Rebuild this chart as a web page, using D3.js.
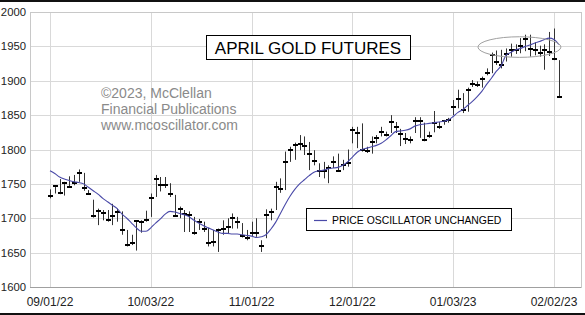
<!DOCTYPE html>
<html>
<head>
<meta charset="utf-8">
<script src="https://cdn.jsdelivr.net/npm/d3@7"></script>
<style>
  body { margin: 0; background: #fff; }
  svg { display: block; font-family: "Liberation Sans", Arial, sans-serif; }
</style>
</head>
<body>
<script>
// daily bars, trading day index 0 = 09/01/22
var highs = [1742,1748,1757,1753,1761,1763,1771,1766,1741,1727,
  1714,1712,1712,1721,1714,1710,1683,1676,1697,1697,
  1711,1736,1763,1760,1760,1751,1734,1717,1712,1710,
  1702,1699,1695,1686,1683,1685,1697,1700,1707,1702,
  1693,1683,1695,1700,1668,1713,1714,1753,1758,1797,
  1804,1810,1821,1819,1811,1799,1780,1782,1777,1790,
  1794,1785,1800,1833,1833,1838,1804,1819,1821,1833,
  1826,1850,1840,1830,1824,1819,1847,1847,1839,1826,
  1856,1840,1843,1846,1872,1887,1882,1890,1901,1899,
  1906,1918,1941,1944,1945,1947,1954,1953,1962,1967,
  1967,1956,1951,1953,1971,1976,1930];
var lows = [1729,1736,1735,1733,1744,1748,1753,1740,1734,1701,
  1690,1697,1695,1690,1695,1676,1659,1661,1653,1679,
  1695,1702,1731,1739,1744,1731,1702,1700,1680,1680,
  1676,1683,1680,1659,1659,1651,1676,1678,1685,1685,
  1672,1668,1673,1673,1651,1671,1697,1712,1737,1741,
  1782,1785,1799,1792,1770,1777,1760,1758,1751,1773,
  1768,1770,1775,1809,1802,1797,1795,1794,1809,1819,
  1819,1824,1824,1805,1808,1809,1824,1817,1812,1817,
  1825,1830,1836,1839,1850,1860,1853,1855,1891,1891,
  1890,1908,1911,1923,1918,1928,1935,1939,1940,1943,
  1935,1937,1935,1916,1936,1930,1876];
var closes = [1733,1747,1737,1752,1745,1752,1766,1744,1736,1703,
  1711,1707,1698,1703,1709,1683,1661,1664,1696,1695,
  1698,1729,1757,1748,1748,1736,1703,1713,1706,1705,
  1678,1694,1684,1664,1666,1683,1684,1687,1700,1695,
  1674,1671,1679,1679,1659,1705,1709,1745,1742,1782,
  1799,1806,1808,1805,1793,1783,1769,1769,1773,1782,
  1769,1778,1780,1829,1824,1799,1798,1811,1816,1826,
  1821,1840,1833,1822,1815,1814,1841,1841,1814,1819,
  1839,1833,1841,1843,1862,1874,1857,1887,1895,1894,
  1902,1912,1938,1927,1923,1939,1945,1945,1951,1960,
  1946,1945,1940,1945,1942,1931,1876];
// blue price oscillator line
var osc = [1769,1765,1760,1757,1755,1753,1752,1750,1745,1740,
  1735,1729,1724,1719,1714,1706,1700,1693,1686,1681,
  1681,1686,1693,1699,1706,1710,1709,1707,1705,1702,
  1697,1693,1689,1686,1683,1680,1678,1678,1677,1677,
  1676,1675,1674,1672,1673,1676,1684,1694,1707,1720,
  1732,1742,1750,1756,1762,1767,1769,1770,1772,1773,
  1774,1777,1782,1789,1796,1800,1802,1804,1806,1809,
  1814,1820,1826,1827,1828,1830,1834,1836,1837,1838,
  1839,1840,1841,1843,1848,1854,1858,1864,1870,1877,
  1885,1895,1904,1914,1922,1937,1941,1945,1947,1950,
  1952,1955,1957,1960,1962,1960,1953];

var xTickIdx = [0, 21, 42, 63, 84, 105];
var xTickLabels = ["09/01/22", "10/03/22", "11/01/22", "12/01/22", "01/03/23", "02/02/23"];
var yTicks = [1600, 1650, 1700, 1750, 1800, 1850, 1900, 1950, 2000];

var width = 585, height = 315;
var plot = {left: 30, right: 581, top: 12, bottom: 287};

var svg = d3.select("body").append("svg")
  .attr("width", width)
  .attr("height", height);

var x = d3.scaleLinear().domain([0, 105]).range([50, 554]);
var y = d3.scaleLinear().domain([1600, 2000]).range([plot.bottom, plot.top]);

// frame bands top / bottom
svg.append("rect").attr("x", 0).attr("y", 0).attr("width", width).attr("height", 2).attr("fill", "#111");
svg.append("rect").attr("x", 0).attr("y", 313).attr("width", width).attr("height", 2).attr("fill", "#111");

// grid
svg.append("g").selectAll("line")
  .data(yTicks)
  .enter().append("line")
  .attr("x1", plot.left).attr("x2", plot.right)
  .attr("y1", function(d) { return Math.round(y(d)) + 0.5; })
  .attr("y2", function(d) { return Math.round(y(d)) + 0.5; })
  .attr("stroke", "#d9d9d9");

svg.append("g").selectAll("line")
  .data(xTickIdx)
  .enter().append("line")
  .attr("x1", function(d) { return Math.round(x(d)) + 0.5; })
  .attr("x2", function(d) { return Math.round(x(d)) + 0.5; })
  .attr("y1", plot.top).attr("y2", plot.bottom)
  .attr("stroke", "#d9d9d9");

// plot border
svg.append("rect")
  .attr("x", plot.left + 0.5).attr("y", plot.top + 0.5)
  .attr("width", plot.right - plot.left).attr("height", plot.bottom - plot.top)
  .attr("fill", "none").attr("stroke", "#c8c8c8");
svg.append("line")
  .attr("x1", plot.left).attr("x2", plot.right)
  .attr("y1", plot.bottom + 0.5).attr("y2", plot.bottom + 0.5)
  .attr("stroke", "#a0a0a0");

// axis labels
svg.append("g").selectAll("text")
  .data(yTicks)
  .enter().append("text")
  .attr("x", 26)
  .attr("y", function(d) { return y(d) + 4; })
  .attr("text-anchor", "end")
  .attr("font-size", 11.3)
  .attr("fill", "#222")
  .text(function(d) { return d; });

svg.append("g").selectAll("text")
  .data(xTickIdx)
  .enter().append("text")
  .attr("x", function(d) { return x(d); })
  .attr("y", 306)
  .attr("text-anchor", "middle")
  .attr("font-size", 12)
  .attr("fill", "#222")
  .text(function(d, i) { return xTickLabels[i]; });

// watermark
var wm = ["\u00a92023, McClellan", "Financial Publications", "www.mcoscillator.com"];
svg.append("g").selectAll("text")
  .data(wm)
  .enter().append("text")
  .attr("x", 101)
  .attr("y", function(d, i) { return 97.5 + i * 16; })
  .attr("font-size", 14)
  .attr("fill", "#8a8a8a")
  .text(function(d) { return d; });

// title box
svg.append("rect")
  .attr("x", 206.5).attr("y", 35.5).attr("width", 204).attr("height", 24)
  .attr("fill", "#fff").attr("stroke", "#000");
svg.append("text")
  .attr("x", 308).attr("y", 54)
  .attr("text-anchor", "middle")
  .attr("font-size", 17)
  .attr("fill", "#000")
  .text("APRIL GOLD FUTURES");

// legend
svg.append("rect")
  .attr("x", 306.5).attr("y", 208.5).attr("width", 205).attr("height", 22)
  .attr("fill", "#fff").attr("stroke", "#000");
svg.append("line")
  .attr("x1", 314).attr("x2", 327).attr("y1", 220.5).attr("y2", 220.5)
  .attr("stroke", "#4a4aa8").attr("stroke-width", 1.2);
svg.append("text")
  .attr("x", 332).attr("y", 223.5)
  .attr("font-size", 10.4)
  .attr("fill", "#000")
  .text("PRICE OSCILLATOR UNCHANGED");

// bars
var idx = d3.range(highs.length);
var bars = svg.append("g");
bars.selectAll("line.hl")
  .data(idx)
  .enter().append("line")
  .attr("class", "hl")
  .attr("x1", function(i) { return Math.round(x(i)) + 0.5; })
  .attr("x2", function(i) { return Math.round(x(i)) + 0.5; })
  .attr("y1", function(i) { return y(highs[i]); })
  .attr("y2", function(i) { return y(lows[i]); })
  .attr("stroke", "#333")
  .attr("stroke-width", 1);
bars.selectAll("rect.cl")
  .data(idx)
  .enter().append("rect")
  .attr("class", "cl")
  .attr("x", function(i) { return Math.round(x(i)) - 2; })
  .attr("y", function(i) { return Math.round(y(closes[i])) - 1; })
  .attr("width", 5)
  .attr("height", 2)
  .attr("fill", "#000");

// oscillator line
var line = d3.line()
  .x(function(d, i) { return x(i); })
  .y(function(d) { return y(d); })
  .curve(d3.curveMonotoneX);
svg.append("path")
  .datum(osc)
  .attr("d", line)
  .attr("fill", "none")
  .attr("stroke", "#4a4aa8")
  .attr("stroke-width", 1.1);

// highlight ellipse around the top
svg.append("ellipse")
  .attr("cx", x(97.8)).attr("cy", y(1949))
  .attr("rx", 41.5).attr("ry", 10.3)
  .attr("fill", "none")
  .attr("stroke", "#a0a0a0")
  .attr("stroke-width", 1);
</script>
</body>
</html>
